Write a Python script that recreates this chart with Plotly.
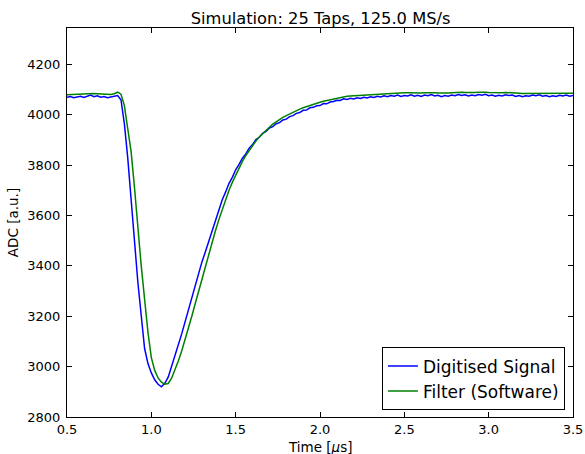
import plotly.graph_objects as go

# Sample time base (µs): start and step of the read-off grid
t_start_us = 0.50
t_step_us = 0.02

digitised = [
    4070, 4073, 4068, 4071, 4074, 4069, 4075, 4079, 4072, 4076,
    4070, 4073, 4068, 4072, 4074, 4077, 4060, 3965, 3830, 3665,
    3478, 3336, 3204, 3072, 3012, 2975, 2948, 2930, 2920, 2934,
    2958, 3000, 3040, 3086, 3130, 3178, 3226, 3271, 3322, 3368,
    3416, 3455, 3497, 3540, 3585, 3621, 3662, 3693, 3727, 3752,
    3782, 3803, 3828, 3845, 3868, 3882, 3902, 3911, 3927, 3934,
    3948, 3953, 3965, 3969, 3980, 3983, 3993, 3997, 4006, 4009,
    4018, 4019, 4028, 4030, 4036, 4037, 4045, 4044, 4051, 4053,
    4058, 4057, 4064, 4061, 4066, 4063, 4068, 4065, 4070, 4067,
    4072, 4069, 4074, 4071, 4076, 4072, 4077, 4074, 4079, 4073,
    4077, 4075, 4080, 4074, 4078, 4073, 4079, 4076, 4081, 4075,
    4078, 4072, 4077, 4074, 4079, 4076, 4081, 4077, 4080, 4075,
    4079, 4076, 4081, 4078, 4082, 4076, 4079, 4074, 4078, 4075,
    4080, 4077, 4079, 4073, 4077, 4072, 4076, 4074, 4079, 4076,
    4080, 4074, 4077, 4072, 4076, 4073, 4078, 4075, 4079, 4074,
    4077,
]

filtered = [
    4080, 4081, 4082, 4083, 4084, 4085, 4086, 4086, 4085, 4084,
    4083, 4082, 4081, 4081, 4084, 4090, 4082, 4038, 3945, 3855,
    3712, 3552, 3401, 3268, 3136, 3036, 2985, 2955, 2938, 2930,
    2933, 2954, 2985, 3022, 3062, 3105, 3152, 3200, 3250, 3300,
    3350, 3400, 3448, 3495, 3540, 3583, 3625, 3665, 3700, 3732,
    3762, 3790, 3815, 3838, 3859, 3878, 3896, 3912, 3926, 3939,
    3951, 3963, 3973, 3982, 3990, 3997, 4004, 4011, 4017, 4023,
    4028, 4033, 4038, 4043, 4047, 4050, 4054, 4057, 4060, 4064,
    4068, 4071, 4073, 4074, 4075, 4076, 4077, 4078, 4079, 4080,
    4081, 4082, 4083, 4084, 4085, 4086, 4086, 4087, 4087, 4088,
    4088, 4088, 4087, 4086, 4086, 4087, 4088, 4089, 4089, 4088,
    4087, 4086, 4086, 4087, 4088, 4089, 4090, 4090, 4089, 4088,
    4088, 4089, 4090, 4091, 4090, 4089, 4088, 4087, 4087, 4088,
    4089, 4089, 4088, 4087, 4086, 4085, 4085, 4086, 4087, 4088,
    4088, 4087, 4086, 4085, 4085, 4086, 4087, 4088, 4088, 4087,
    4086,
]

time_us = [round(t_start_us + t_step_us * i, 4) for i in range(len(digitised))]

x_ticks = [0.5, 1.0, 1.5, 2.0, 2.5, 3.0, 3.5]
y_ticks = [2800, 3000, 3200, 3400, 3600, 3800, 4000, 4200]

fig = go.Figure()
fig.add_trace(go.Scatter(x=time_us, y=digitised, mode="lines",
                         name="Digitised Signal",
                         line=dict(color="#0000ff", width=1.5)))
fig.add_trace(go.Scatter(x=time_us, y=filtered, mode="lines",
                         name="Filter (Software)",
                         line=dict(color="#008000", width=1.5)))

axis_common = dict(showline=True, linecolor="black", linewidth=1,
                   mirror="ticks", ticks="inside", ticklen=5,
                   tickcolor="black", showgrid=False, zeroline=False,
                   automargin=False,
                   tickfont=dict(size=13, color="black"))

fig.update_layout(
    width=585, height=454,
    margin=dict(l=67, r=12, t=28, b=37),
    paper_bgcolor="white", plot_bgcolor="white",
    font=dict(family="DejaVu Sans", color="black"),
    title=dict(text="Simulation: 25 Taps, 125.0 MS/s", x=0.548, xanchor="center",
               y=0.972, yanchor="top", font=dict(size=16.3, color="black")),
    xaxis=dict(range=[0.5, 3.5], tickvals=x_ticks,
               ticktext=[f"{v:.1f}" for v in x_ticks],
               ticklabelstandoff=0,
               **axis_common),
    yaxis=dict(range=[2800, 4345], tickvals=y_ticks,
               ticktext=[str(v) for v in y_ticks],
               ticklabelstandoff=3,
               title=dict(text="ADC [a.u.]", font=dict(size=13.5), standoff=5),
               **axis_common),
    legend=dict(x=0.984, y=0.017, xanchor="right", yanchor="bottom",
                bgcolor="white", bordercolor="black", borderwidth=1,
                font=dict(size=17, color="black"), tracegroupgap=0),
    annotations=[dict(text="Time [<i>μ</i>s]", xref="paper", yref="paper",
                      x=0.5, y=0, yshift=-30, xanchor="center", yanchor="middle",
                      showarrow=False, font=dict(size=13.5, color="black"))],
    showlegend=True,
)

fig.write_html("out.html")
